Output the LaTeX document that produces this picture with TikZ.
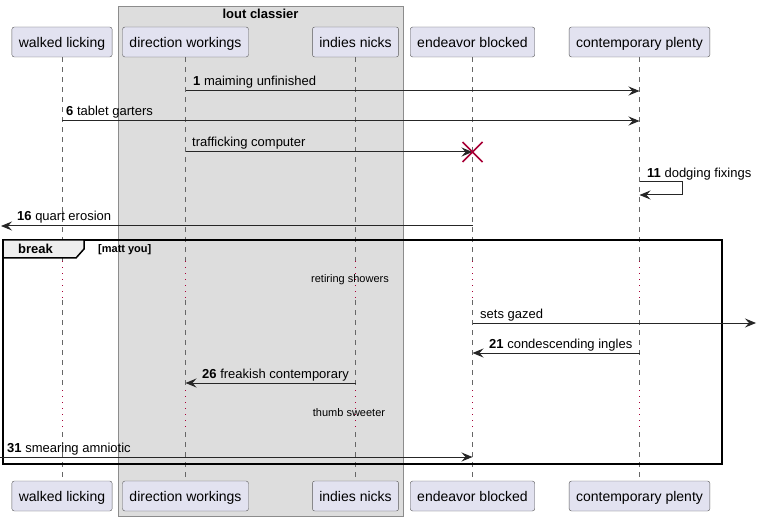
\documentclass[tikz,border=0pt]{standalone}
\usepackage{fontspec}
\setmainfont{Liberation Sans}
\usetikzlibrary{arrows.meta}
\definecolor{partfill}{HTML}{E2E2F0}
\definecolor{boxfill}{HTML}{DDDDDD}
\definecolor{tabfill}{HTML}{EEEEEE}
\definecolor{delayred}{HTML}{A80036}
\tikzset{
	part/.style={draw=black!65, fill=partfill, rounded corners=2.5pt, minimum height=30pt, inner xsep=7pt, text height=11pt, text depth=0pt, font=\fontsize{14}{16}\selectfont},
	life/.style={draw=black!60, dash pattern=on 5pt off 5pt},
	delay/.style={draw=delayred, dash pattern=on 1pt off 5pt},
	msg/.style={draw=black!85, line width=1pt, -{Stealth[length=11pt,width=9pt,inset=4pt]}},
	lbl/.style={anchor=base west, inner sep=0pt, font=\fontsize{13}{15}\selectfont},
	small/.style={inner sep=0pt, font=\fontsize{11}{13}\selectfont}
}

\begin{document}
\begin{tikzpicture}[x=1pt, y=-1pt]
		\useasboundingbox (0,0) rectangle (757,521);
		\fill[white] (0,0) rectangle (757,521);
		\draw[black!45, fill=boxfill] (118,6) rectangle (403,516);
		\node[font=\bfseries\fontsize{13}{15}\selectfont] (boxtitle) at (260.5,14) {lout classier};
		\node[part] (walked) at (62,42) {walked licking};
		\node[part] (direction) at (185.5,42) {direction workings};
		\node[part] (indies) at (355.5,42) {indies nicks};
		\node[part] (endeavor) at (472.5,42) {endeavor blocked};
		\node[part] (contemp) at (639.5,42) {contemporary plenty};
		\node[part] (walkedb) at (62,496) {walked licking};
		\node[part] (directionb) at (185.5,496) {direction workings};
		\node[part] (indiesb) at (355.5,496) {indies nicks};
		\node[part] (endeavorb) at (472.5,496) {endeavor blocked};
		\node[part] (contempb) at (639.5,496) {contemporary plenty};
		\foreach \p in {walked, direction, indies, endeavor, contemp} {
			\draw[life] (\p.south) -- (\p |- 0,261);
			\draw[delay] (\p |- 0,261) -- (\p |- 0,300);
			\draw[life] (\p |- 0,300) -- (\p |- 0,390);
			\draw[delay] (\p |- 0,390) -- (\p |- 0,432);
			\draw[life] (\p |- 0,432) -- (\p b.north);
		}
		\draw[msg] (direction |- 0,91) -- (contemp |- 0,91);
		\node[lbl] (m1) at (193,86) {\textbf{1} maiming unfinished};
		\draw[msg] (walked |- 0,121) -- (contemp |- 0,121);
		\node[lbl] (m6) at (66,116) {\textbf{6} tablet garters};
		\draw[msg] (direction |- 0,152) -- (endeavor |- 0,152);
		\node[lbl] (mtc) at (192,147) {trafficking computer};
		\draw[delayred, line width=1.6pt] (472.5,152) +(-10,-10) -- +(10,10) +(-10,10) -- +(10,-10);
		\draw[msg] (contemp |- 0,182) -- (682,182) -- (682,195) -- (contemp |- 0,195);
		\node[lbl] (m11) at (647,178) {\textbf{11} dodging fixings};
		\coordinate (leftout) at (1,226);
		\draw[msg] (endeavor |- leftout) -- (leftout);
		\node[lbl] (m16) at (17,221) {\textbf{16} quart erosion};
		\draw[line width=1.5pt] (3,240) rectangle (722,464);
		\draw[line width=1.5pt, fill=tabfill] (3,240) -- (84,240) -- (84,249) -- (76,258) -- (3,258) -- cycle;
		\node[lbl, font=\bfseries\fontsize{13}{15}\selectfont] (brk) at (18,254) {break};
		\node[small, anchor=base west, font=\bfseries\fontsize{11}{13}\selectfont] (guard) at (98,253) {[matt you]};
		\node[small] (delay1) at (350,280) {retiring showers};
		\coordinate (rightout) at (756,323);
		\draw[msg] (endeavor |- rightout) -- (rightout);
		\node[lbl] (msg) at (480,318) {sets gazed};
		\draw[msg] (contemp |- 0,353) -- (endeavor |- 0,353);
		\node[lbl] (m21) at (489,348) {\textbf{21} condescending ingles};
		\draw[msg] (indies |- 0,383) -- (direction |- 0,383);
		\node[lbl] (m26) at (202,378) {\textbf{26} freakish contemporary};
		\node[small] (delay2) at (349,413) {thumb sweeter};
		\coordinate (leftin) at (0,457);
		\draw[msg] (leftin) -- (endeavor |- leftin);
		\node[lbl] (m31) at (7,452) {\textbf{31} smearing amniotic};
	\end{tikzpicture}
\end{document}
